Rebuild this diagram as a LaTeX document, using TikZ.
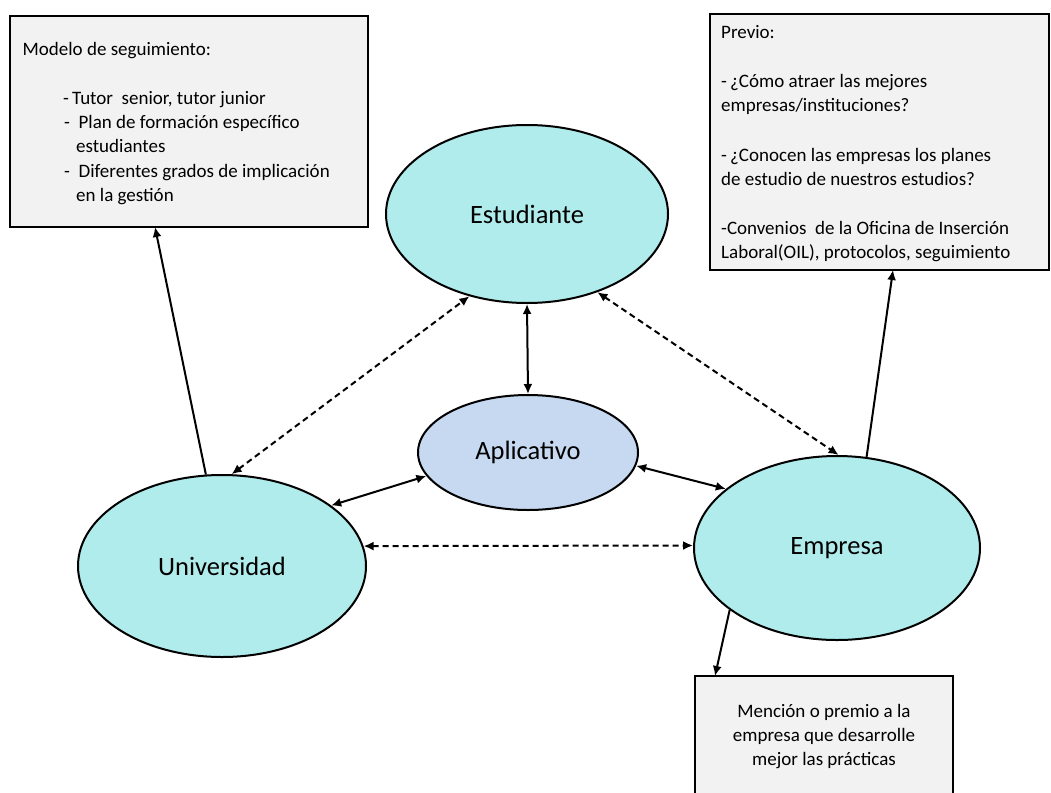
\documentclass[tikz,border=0pt]{standalone}
\usepackage{fontspec}
\setmainfont{Carlito}
\usetikzlibrary{shapes.geometric,arrows.meta}
\definecolor{cyanfill}{RGB}{176,236,236}
\definecolor{appfill}{RGB}{198,217,241}
\definecolor{boxfill}{RGB}{242,242,242}
\tikzset{
  oval/.style={ellipse,draw=black,line width=2pt,inner sep=0pt,fill=cyanfill,font=\fontsize{26.5}{30}\selectfont},
  infobox/.style={rectangle,draw=black,line width=2pt,fill=boxfill,inner sep=0pt},
  txt/.style={anchor=base west,inner sep=0pt,font=\fontsize{19}{24}\selectfont},
  conn/.style={line width=2pt,{Latex[length=10pt,width=9pt]}-{Latex[length=10pt,width=9pt]}},
  oneway/.style={line width=2pt,-{Latex[length=10pt,width=9pt]}},
  dconn/.style={conn,dash pattern=on 6pt off 4pt},
}
\begin{document}
\begin{tikzpicture}[x=1pt,y=-1pt]
\useasboundingbox (0,0) rectangle (1051,792);
\clip (0,0) rectangle (1051,792);
% boxes
\node[infobox,minimum width=358pt,minimum height=211pt] (tl) at (189,121.5) {};
\node[infobox,minimum width=339pt,minimum height=256pt] (tr) at (879.5,142) {};
\node[infobox,minimum width=258pt,minimum height=140pt] (bt) at (824,746) {};
% text top left
\node[txt] (tl1) at (22.5,56) {Modelo de seguimiento:};
\node[txt] (tl2) at (63,104) {-\,Tutor\ \ senior, tutor junior};
\node[txt] (tl3) at (64,128) {-\ \ Plan de formación específico};
\node[txt] (tl4) at (76,152) {estudiantes};
\node[txt] (tl5) at (64,177) {-\ \ Diferentes grados de implicación};
\node[txt] (tl6) at (76,201) {en la gestión};
% text top right
\node[txt] (tr1) at (721,39) {Previo:};
\node[txt] (tr2) at (721,87.5) {-\,¿Cómo atraer las mejores};
\node[txt] (tr3) at (721,111.5) {empresas/instituciones?};
\node[txt] (tr4) at (721,161) {-\,¿Conocen las empresas los planes};
\node[txt] (tr5) at (721,185.5) {de estudio de nuestros estudios?};
\node[txt] (tr6) at (721,234) {-Convenios\ \ de la Oficina de Inserción};
\node[txt] (tr7) at (721,258) {Laboral(OIL), protocolos, seguimiento};
% text bottom
\node[align=center,inner sep=0pt,font=\fontsize{19}{24}\selectfont] (bt1) at (824,737) {Mención o premio a la\\empresa que desarrolle\\mejor las prácticas};
% ellipses
\node[oval,minimum width=282pt,minimum height=178pt] (est) at (527,214) {Estudiante};
\node[oval,fill=appfill,minimum width=220pt,minimum height=115pt] (app) at (528,452.5) {Aplicativo};
\node[oval,minimum width=288pt,minimum height=182pt] (uni) at (222,566) {Universidad};
\node[oval,minimum width=286pt,minimum height=184pt] (emp) at (837,548) {\raisebox{-2pt}{Empresa}};
% border points on boxes
\coordinate (tlA) at (155,227);
\coordinate (trA) at (893,270);
\coordinate (btA) at (715,676);
% connectors
\draw[oneway] (uni.100) -- (tlA);
\draw[oneway] (emp.72) -- (trA);
\draw[oneway] (emp.210) -- (btA);
\draw[conn] (est.270) -- (app.90);
\draw[conn] (app.193) -- (uni.29);
\draw[conn] (app.-7) -- (emp.152);
\draw[dconn] (uni.84) -- (est.235);
\draw[dconn] (est.-48) -- (emp.89);
\draw[dconn] (uni.8) -- (emp.179);
\end{tikzpicture}
\end{document}
